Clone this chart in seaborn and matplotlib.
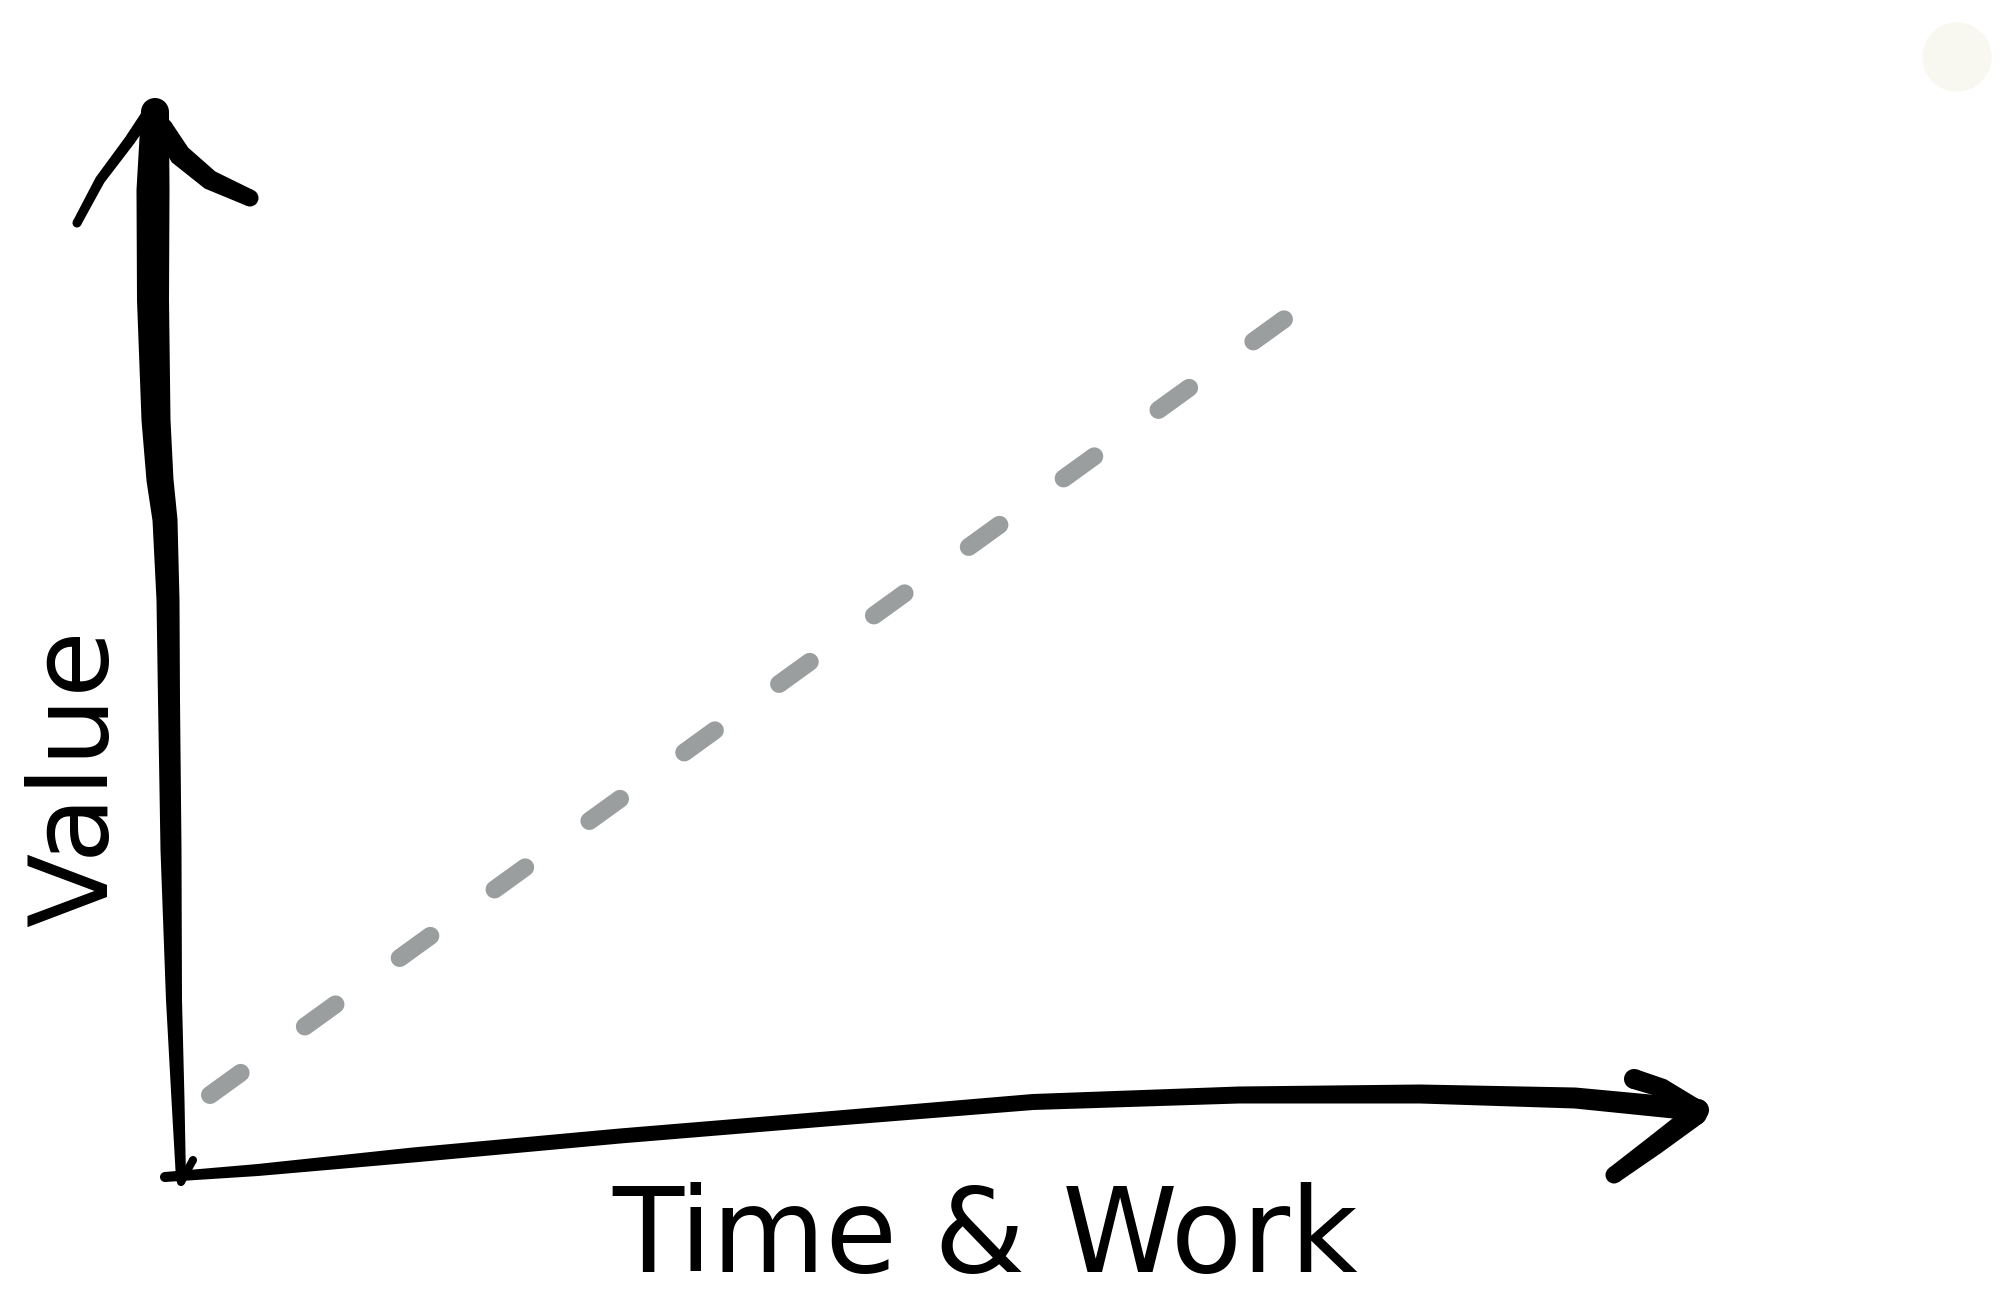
import matplotlib.pyplot as plt
from matplotlib.patches import Circle
import seaborn as sns
import pandas as pd
import numpy as np

# hand-drawn sketch, coordinates in image pixels (y measured from top)
W, H = 2014, 1307

# the grey dashed trend: value grows with time & work
time_work = [210, 1301]
value_px = [1095, 307]

# hand-drawn axis strokes (x, y from top) and their widths in px
y_axis_x = [181, 178, 174, 171, 169, 168, 165, 160, 156, 153, 153, 155]
y_axis_y = [1179, 1100, 1000, 850, 700, 600, 520, 480, 420, 300, 190, 112]
y_axis_w = [10, 13, 16, 21, 22, 23, 25, 27, 29, 32, 33, 28]

x_axis_x = [165, 258, 413, 620, 826, 1033, 1239, 1420, 1575, 1698]
x_axis_y = [1177, 1170, 1155, 1136, 1119, 1102, 1095, 1094, 1098, 1110]
x_axis_w = [10, 12, 15, 15, 15, 16, 17, 19, 21, 22]

y_head_left_x = [153, 130, 100, 77]
y_head_left_y = [106, 140, 180, 223]
y_head_left_w = [12, 11, 10, 9]
y_head_right_x = [163, 180, 210, 250]
y_head_right_y = [128, 155, 180, 198]
y_head_right_w = [20, 22, 20, 17]

x_head_up_x = [1634, 1662, 1694]
x_head_up_y = [1079, 1088, 1108]
x_head_up_w = [20, 19, 20]
x_head_low_x = [1696, 1655, 1614]
x_head_low_y = [1114, 1145, 1175]
x_head_low_w = [22, 20, 17]

origin_tick_x = [181, 193]
origin_tick_y = [1182, 1160]

sns.set_theme(style="white")
plt.rcParams["font.family"] = ["DejaVu Sans"]

fig = plt.figure(figsize=(W / 100, H / 100), dpi=100)
ax = fig.add_axes([0, 0, 1, 1])


def brush(xs, ys, widths, color="black"):
    # filled stroke of varying width, round ends
    if not isinstance(widths, list):
        widths = [widths] * len(xs)
    pts = np.column_stack([xs, H - np.array(ys, dtype=float)])
    w = np.array(widths, dtype=float)
    d = np.gradient(pts, axis=0)
    d /= np.linalg.norm(d, axis=1)[:, None]
    n = np.column_stack([-d[:, 1], d[:, 0]])
    left = pts + n * w[:, None] / 2
    right = pts - n * w[:, None] / 2
    poly = np.vstack([left, right[::-1]])
    ax.fill(poly[:, 0], poly[:, 1], color=color, lw=0)
    for p, r in [(pts[0], w[0] / 2), (pts[-1], w[-1] / 2)]:
        ax.add_patch(Circle(p, r, color=color, lw=0))


brush(y_axis_x, y_axis_y, y_axis_w)
brush(x_axis_x, x_axis_y, x_axis_w)
brush(y_head_left_x, y_head_left_y, y_head_left_w)
brush(y_head_right_x, y_head_right_y, y_head_right_w)
brush(x_head_up_x, x_head_up_y, x_head_up_w)
brush(x_head_low_x, x_head_low_y, x_head_low_w)
brush(origin_tick_x, origin_tick_y, 8)

df = pd.DataFrame({"time_work": time_work,
                   "value": [H - v for v in value_px]})
lw = 18 * 0.72
sns.lineplot(data=df, x="time_work", y="value", ax=ax, color="#9a9e9f",
             linewidth=lw, linestyle=(0, (2.1, 4.4)), dash_capstyle="round")

# faint smudge top right
ax.scatter([1957], [H - 57], s=2500, color="#f8f8f1", edgecolor="none")

ax.text(77, H - 778, "Value", rotation=90, ha="center", va="center",
        fontsize=78, color="black")
ax.text(985, H - 1240, "Time & Work", ha="center", va="center",
        fontsize=84, color="black")

ax.set_xlim(0, W)
ax.set_ylim(0, H)
ax.set_aspect("auto")
ax.axis("off")
fig.savefig("out.png", dpi=100, facecolor="white")
